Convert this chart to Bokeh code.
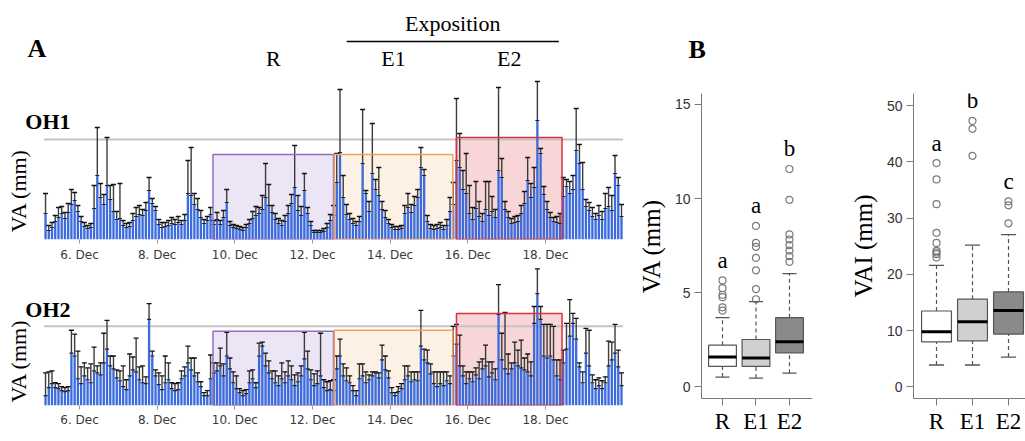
import numpy as np
import pandas as pd
from bokeh.plotting import figure
from bokeh.layouts import row, column
from bokeh.models import Range1d, FixedTicker, CustomJSTickFormatter
from bokeh.core.properties import value
from bokeh.embed import file_html
from bokeh.resources import INLINE

# ---------------- data ----------------
first_bin = "2015-12-05 02:00"      # 2-hour bins
bin_hours = 2

oh1_va = [
    2.6, 0.9, 1.2, 1.8, 2.2, 2.6, 2.1, 2.7, 3.5, 3.9, 2.8,
    1.8, 1.3, 1.1, 1.2, 3.1, 6.4, 4.2, 3.5, 5.4, 4.0, 2.8, 2.0,
    2.1, 1.4, 1.2, 1.3, 1.9, 2.3, 2.5, 2.4, 2.9, 4.9, 3.6, 2.9,
    1.5, 1.2, 1.3, 1.4, 1.6, 1.5, 1.7, 1.5, 1.9, 4.6, 4.4, 3.5,
    3.0, 2.2, 1.6, 1.9, 2.5, 1.5, 2.0, 1.5, 2.2, 3.7, 1.4, 1.2,
    1.1, 1.0, 0.9, 1.2, 1.6, 2.1, 2.4, 2.6, 3.0, 4.2, 3.4, 2.7,
    2.0, 1.6, 1.4, 1.8, 2.6, 3.6, 5.2, 2.9, 2.4, 4.9, 2.6, 1.4,
    0.7, 0.7, 0.7, 0.8, 1.2, 1.9, 2.4, 5.7, 8.7, 4.2, 2.5, 2.0,
    1.6, 1.4, 1.8, 7.6, 4.6, 2.8, 6.6, 5.0, 4.4, 3.0, 2.2, 1.6,
    1.2, 1.0, 1.0, 1.1, 2.6, 3.2, 2.7, 3.4, 4.2, 7.2, 6.4, 1.8,
    1.1, 1.0, 1.1, 1.2, 1.0, 1.4, 2.8, 3.5, 7.9, 7.2, 5.0, 4.6,
    2.6, 2.0, 3.1, 2.3, 1.8, 3.0, 2.4, 2.8, 2.2, 6.9, 6.2, 3.0,
    2.2, 1.6, 1.7, 1.8, 2.6, 3.6, 5.9, 4.2, 5.2, 11.9, 8.6, 4.5,
    3.0, 2.2, 1.8, 1.7, 1.6, 4.3, 5.3, 4.6, 5.0, 8.9, 7.6, 5.0,
    3.3, 2.9, 2.3, 2.0, 2.4, 2.0, 3.1, 3.3, 2.9, 6.6, 5.4, 2.3,
]
oh1_upper = [
    4.6, 1.4, 1.7, 2.4, 3.2, 3.3, 2.7, 3.6, 5.0, 4.7, 3.4,
    2.3, 1.7, 1.4, 1.6, 5.4, 11.2, 5.6, 4.5, 10.2, 5.4, 5.5, 2.8,
    5.6, 1.9, 1.6, 1.7, 2.6, 3.2, 3.4, 3.0, 3.7, 6.2, 4.1, 3.3,
    2.0, 1.7, 1.7, 1.9, 2.2, 2.0, 2.3, 1.9, 2.5, 7.9, 9.2, 4.6,
    4.1, 2.9, 2.0, 2.3, 3.2, 1.9, 2.7, 1.9, 2.9, 5.0, 1.8, 1.5,
    1.4, 1.3, 1.2, 1.5, 2.0, 2.8, 3.3, 3.2, 4.4, 7.6, 5.5, 3.4,
    2.6, 2.1, 1.9, 2.4, 3.4, 4.5, 9.4, 4.4, 3.3, 6.6, 3.2, 1.8,
    0.9, 0.9, 0.9, 1.1, 1.6, 2.5, 3.4, 8.6, 15.0, 6.4, 3.5, 2.6,
    2.1, 1.8, 2.3, 13.0, 4.9, 3.8, 11.6, 6.0, 7.2, 3.8, 2.9, 2.0,
    1.5, 1.3, 1.3, 1.4, 3.4, 4.6, 3.5, 4.3, 5.0, 9.2, 7.0, 2.4,
    1.5, 1.4, 1.5, 1.7, 1.4, 2.0, 4.2, 5.7, 14.1, 10.6, 6.9, 8.6,
    5.4, 3.2, 5.8, 3.8, 2.6, 5.8, 5.8, 4.3, 3.0, 15.2, 8.1, 3.8,
    2.8, 2.1, 2.3, 2.4, 3.4, 4.8, 8.2, 5.6, 7.2, 15.8, 9.1, 5.3,
    3.8, 2.7, 2.2, 2.3, 2.6, 6.2, 6.0, 5.8, 6.4, 13.1, 9.5, 7.7,
    4.0, 3.7, 3.2, 2.6, 3.4, 2.8, 4.6, 5.2, 4.4, 8.4, 6.2, 3.5,
]
oh2_va = [
    1.0, 1.8, 2.2, 1.8, 1.7, 1.5, 1.4, 1.5, 5.3, 5.0, 2.7,
    2.2, 3.0, 2.6, 2.3, 3.5, 3.3, 3.1, 4.3, 5.7, 4.0, 3.7, 2.8,
    2.5, 1.9, 1.6, 3.0, 3.6, 3.4, 2.6, 2.3, 2.2, 8.7, 5.0, 3.0,
    2.1, 1.6, 2.3, 2.6, 1.7, 1.5, 1.6, 2.7, 3.0, 4.3, 3.6, 3.0,
    2.4, 1.9, 1.0, 1.0, 2.7, 3.3, 3.5, 4.0, 3.0, 5.0, 3.7, 2.3,
    1.7, 1.3, 1.0, 1.2, 2.3, 2.7, 1.8, 5.0, 6.0, 4.0, 3.3, 2.7,
    2.3, 2.0, 2.7, 2.3, 3.0, 2.6, 2.0, 2.4, 3.0, 4.7, 3.7, 2.6,
    2.0, 2.2, 3.0, 1.8, 1.5, 1.6, 1.5, 3.7, 5.0, 3.0, 2.5, 2.3,
    1.5, 1.0, 2.7, 3.0, 2.3, 2.6, 3.0, 3.3, 2.8, 4.6, 3.6, 2.8,
    1.3, 1.0, 1.4, 1.7, 2.6, 3.0, 2.4, 2.6, 2.5, 6.0, 4.6, 4.3,
    3.2, 2.2, 1.9, 2.2, 2.0, 2.5, 2.2, 5.0, 6.2, 4.0, 3.0, 2.2,
    2.7, 2.4, 3.1, 2.7, 3.7, 4.0, 2.9, 3.3, 2.6, 9.2, 4.6, 3.7,
    3.2, 3.7, 4.3, 4.0, 3.8, 3.6, 3.4, 3.0, 8.3, 11.3, 8.7, 5.0,
    4.8, 5.0, 4.6, 3.0, 2.6, 4.3, 5.7, 7.0, 8.3, 6.7, 3.9, 2.3,
    5.3, 4.0, 2.3, 1.7, 2.0, 1.7, 2.3, 4.0, 4.6, 5.3, 3.9, 2.0,
]
oh2_upper = [
    3.3, 3.4, 3.5, 2.3, 2.2, 1.9, 1.8, 1.9, 7.6, 7.2, 5.5,
    3.9, 4.3, 3.8, 4.2, 5.9, 4.0, 4.3, 7.3, 8.6, 5.0, 5.0, 3.6,
    3.5, 4.0, 2.6, 5.2, 4.9, 6.8, 3.9, 4.0, 2.9, 10.3, 5.5, 3.6,
    3.3, 3.0, 5.0, 4.3, 2.3, 2.2, 2.3, 3.5, 3.9, 6.0, 4.8, 4.8,
    3.3, 2.4, 1.3, 1.5, 5.1, 4.3, 4.3, 5.8, 4.2, 7.4, 4.8, 3.4,
    3.0, 1.7, 1.5, 1.6, 3.5, 3.6, 2.3, 6.3, 6.4, 5.3, 4.5, 3.5,
    3.5, 3.0, 4.3, 3.4, 4.5, 4.0, 3.1, 3.3, 4.0, 7.4, 5.5, 3.6,
    3.2, 3.5, 7.3, 2.6, 2.4, 2.5, 2.6, 5.0, 6.7, 4.2, 3.8, 3.0,
    2.0, 1.5, 4.2, 4.2, 3.4, 3.1, 3.4, 3.4, 3.3, 6.1, 5.0, 3.5,
    1.8, 1.3, 1.9, 2.2, 4.0, 4.0, 3.4, 3.4, 3.4, 9.6, 5.7, 5.6,
    4.2, 3.4, 3.4, 3.4, 3.4, 3.4, 3.0, 8.0, 8.2, 7.1, 4.0, 3.4,
    3.4, 3.4, 3.8, 4.4, 4.7, 6.1, 4.4, 4.4, 3.7, 12.2, 7.3, 9.4,
    5.2, 4.3, 6.4, 5.6, 6.6, 4.8, 5.2, 4.4, 10.0, 13.8, 10.0, 8.2,
    8.2, 8.2, 8.0, 4.6, 4.6, 5.6, 8.3, 10.7, 9.3, 8.8, 4.3, 3.4,
    7.8, 7.6, 3.1, 2.6, 2.8, 2.5, 2.9, 6.5, 6.4, 8.2, 5.6, 3.3,
]
oh1_reference = 10.0
oh2_reference = 8.0

periods = ["R", "E1", "E2"]
period_start = ["2015-12-09 10:30", "2015-12-12 13:30", "2015-12-15 17:00"]
period_end = ["2015-12-12 13:00", "2015-12-15 14:45", "2015-12-18 10:15"]
oh1_period_top = [8.5, 8.5, 10.2]
oh2_period_top = [7.5, 7.6, 9.3]
exposition_span = ["2015-12-12 21:10", "2015-12-18 08:15"]

date_ticks = ["2015-12-06", "2015-12-08", "2015-12-10", "2015-12-12",
              "2015-12-14", "2015-12-16", "2015-12-18"]
date_tick_labels = ["6. Dec", "8. Dec", "10. Dec", "12. Dec", "14. Dec", "16. Dec", "18. Dec"]

groups = ["R", "E1", "E2"]
va_q1 = [1.07, 1.07, 1.79]
va_med = [1.57, 1.52, 2.38]
va_q3 = [2.20, 2.50, 3.66]
va_lo = [0.50, 0.45, 0.71]
va_hi = [3.66, 4.52, 6.00]
va_out = [[4.04, 4.21, 4.75, 4.88, 5.23, 5.64],
          [4.64, 5.18, 6.18, 6.84, 7.43, 7.64, 8.54],
          [6.63, 6.93, 7.23, 7.52, 7.82, 8.09, 9.93, 11.57]]
va_letters = ["a", "a", "b"]

vai_q1 = [8.0, 8.2, 9.4]
vai_med = [9.8, 11.6, 13.6]
vai_q3 = [13.5, 15.6, 16.9]
vai_lo = [3.9, 3.9, 5.3]
vai_hi = [21.6, 25.2, 27.1]
vai_out = [[23.0, 23.6, 23.9, 24.2, 25.6, 27.4, 32.5, 36.9, 39.8],
           [41.1, 45.9, 47.3],
           [29.1, 32.3, 33.0]]
vai_letters = ["a", "b", "c"]

# ---------------- helpers ----------------
SERIF = value("Liberation Serif")


def ms(s):
    return pd.Timestamp(s).value / 1e6


X_START = ms("2015-12-03 23:10")
X_END = ms("2015-12-20 05:48")
HOUR = 3600 * 1000.0

period_fill = ["#ebe5f5", "#fdf0e4", "#f8d5d6"]
period_line = ["#8f6fc4", "#eda35c", "#d8313f"]


def day_panel(va, upper, ref, ptop, height, bottom, ymax, standoff):
    p = figure(width=632, height=height, x_axis_type="datetime", y_axis_location=None,
               x_range=Range1d(X_START, X_END), y_range=Range1d(0, ymax),
               output_backend="svg", toolbar_location=None,
               min_border_left=0, min_border_right=0, min_border_top=0,
               min_border_bottom=bottom)
    p.xgrid.visible = False
    p.ygrid.visible = False
    p.outline_line_color = None
    p.background_fill_color = "white"
    p.border_fill_color = "white"

    starts = pd.date_range(first_bin, periods=len(va), freq=f"{bin_hours}h")
    x = starts.asi8 / 1e6 + bin_hours * HOUR / 2
    ps = [ms(s) for s in period_start]
    pe = [ms(s) for s in period_end]

    p.quad(left=ps, right=pe, bottom=0, top=ptop, fill_color=period_fill, line_color=None)
    p.segment(x0=[starts.asi8[0] / 1e6], y0=[ref], x1=[x[-1] + bin_hours * HOUR / 2], y1=[ref],
              line_color="#c4c4c4", line_width=2)
    p.vbar(x=x, top=va, bottom=0, width=bin_hours * HOUR * 0.72,
           fill_color="#3b6bdc", line_color=None)
    p.segment(x0=x, y0=va, x1=x, y1=upper, line_color="#3c3c3c", line_width=1.4)
    p.scatter(x=x, y=upper, marker="dash", size=5, line_color="#111111", line_width=1.3)
    p.scatter(x=x, y=va, marker="dash", size=4, line_color="#222222", line_width=1.2)
    p.quad(left=ps, right=pe, bottom=0, top=ptop, fill_color=None,
           line_color=period_line, line_width=1.5)

    ax = p.xaxis[0]
    ax.ticker = FixedTicker(ticks=[ms(d) for d in date_ticks])
    ax.formatter = CustomJSTickFormatter(args=dict(labels=date_tick_labels),
                                         code="return labels[index];")
    ax.axis_line_color = None
    ax.major_tick_line_color = "#9a9a9a"
    ax.major_tick_in = 0
    ax.major_tick_out = 4
    ax.minor_tick_line_color = None
    ax.major_label_standoff = standoff
    ax.major_label_text_font = "DejaVu Sans"
    ax.major_label_text_font_size = "12px"
    ax.major_label_text_color = "#3a3a3a"
    return p


# ---------------- panel A ----------------
p1 = day_panel(oh1_va, oh1_upper, oh1_reference, oh1_period_top, 266, 27, 23.9, 4)
p2 = day_panel(oh2_va, oh2_upper, oh2_reference, oh2_period_top, 175, 36, 14.04, 3)

mid = [(ms(a) + ms(b)) / 2 for a, b in zip(period_start, period_end)]
p1.text(x=mid, y=[18.1] * 3, text=periods, text_font=SERIF, text_font_size="22px",
        text_align="center", text_baseline="alphabetic", text_color="black")
ex0, ex1 = ms(exposition_span[0]), ms(exposition_span[1])
p1.segment(x0=[ex0], y0=[19.8], x1=[ex1], y1=[19.8], line_color="black", line_width=1.3)
p1.text(x=[(ex0 + ex1) / 2], y=[21.6], text=["Exposition"], text_font=SERIF,
        text_font_size="22px", text_align="center", text_baseline="alphabetic")
p1.text(x=[ms("2015-12-04 15:50")], y=[19.1], text=["A"], text_font=SERIF,
        text_font_size="26px", text_font_style="bold", text_align="left",
        text_baseline="alphabetic")

for p, name, yn, yv in ((p1, "OH1", 11.8, 4.9), (p2, "OH2", 9.7, 4.5)):
    p.text(x=[ms("2015-12-04 14:30")], y=[yn], text=[name], text_font=SERIF,
           text_font_size="22px", text_font_style="bold", text_align="left",
           text_baseline="alphabetic")
    p.text(x=[ms("2015-12-04 10:15")], y=[yv], text=["VA (mm)"], text_font=SERIF,
           text_font_size="22px", angle=np.pi / 2, text_align="center",
           text_baseline="middle")


# ---------------- panel B ----------------
def box_panel(width, bleft, btop, bbottom, xr, yr, yticks, ylabel,
              q1, med, q3, lo, hi, outs, letters, tick_out, lab_standoff, lab_size):
    p = figure(width=width, height=441, x_range=Range1d(*xr), y_range=Range1d(*yr),
               output_backend="svg", toolbar_location=None,
               min_border_left=bleft, min_border_right=0, min_border_top=btop,
               min_border_bottom=bbottom)
    p.xgrid.visible = False
    p.ygrid.visible = False
    p.outline_line_color = None
    xs = np.arange(1, len(q1) + 1, dtype=float)
    w, cap = 0.83, 0.21
    fills = ["#ffffff", "#d0d0d0", "#8a8a8a"]
    p.segment(x0=xs, y0=q3, x1=xs, y1=hi, line_color="#555555", line_width=1.2, line_dash="4 3")
    p.segment(x0=xs, y0=lo, x1=xs, y1=q1, line_color="#555555", line_width=1.2, line_dash="4 3")
    p.segment(x0=xs - cap, y0=hi, x1=xs + cap, y1=hi, line_color="#555555", line_width=1.3)
    p.segment(x0=xs - cap, y0=lo, x1=xs + cap, y1=lo, line_color="#555555", line_width=1.3)
    p.quad(left=xs - w / 2, right=xs + w / 2, bottom=q1, top=q3, fill_color=fills,
           line_color="#555555", line_width=1.2)
    p.segment(x0=xs - w / 2, y0=med, x1=xs + w / 2, y1=med, line_color="black", line_width=3)
    ox = [i + 1.0 for i, o in enumerate(outs) for _ in o]
    oy = [v for o in outs for v in o]
    p.scatter(x=ox, y=oy, marker="circle", size=7, fill_color=None,
              line_color="#7a7a7a", line_width=1.2)
    p.text(x=xs, y=[max(o) for o in outs], text=letters, y_offset=-20, text_font=SERIF,
           text_font_size="23px", text_align="center", text_baseline="alphabetic")

    ya = p.yaxis[0]
    ya.ticker = FixedTicker(ticks=yticks)
    ya.axis_label = ylabel
    ya.axis_label_text_font = "Liberation Serif"
    ya.axis_label_text_font_size = "25px"
    ya.axis_label_text_font_style = "normal"
    ya.axis_label_text_color = "black"
    ya.axis_label_standoff = 7
    ya.major_label_text_font = "Liberation Sans"
    ya.major_label_text_font_size = "14px"
    ya.major_label_text_color = "#333333"
    ya.major_tick_out = 7
    ya.major_label_standoff = 4

    xa = p.xaxis[0]
    xa.ticker = FixedTicker(ticks=[1, 2, 3])
    xa.major_label_overrides = {1: groups[0], 2: groups[1], 3: groups[2]}
    xa.major_label_text_font = "Liberation Serif"
    xa.major_label_text_font_size = lab_size
    xa.major_label_text_color = "black"
    xa.major_tick_out = tick_out
    xa.major_label_standoff = lab_standoff

    for a in (xa, ya):
        a.axis_line_color = "#7a7a7a"
        a.major_tick_line_color = "#7a7a7a"
        a.major_tick_in = 0
        a.minor_tick_line_color = None
    return p


b1 = box_panel(180, 69, 93, 43, (0.373, 3.687), (-0.638, 15.585), [0, 5, 10, 15], "VA (mm)",
               va_q1, va_med, va_q3, va_lo, va_hi, va_out, va_letters, 7, 3, "23px")
b1.title.text = "B"
b1.title.text_font = "Liberation Serif"
b1.title.text_font_size = "26px"
b1.title.text_font_style = "bold"
b1.title.text_color = "black"
b1.title.align = "left"
b1.title.offset = -13
b1.title.standoff = 60

b2 = box_panel(213, 101, 89, 36, (0.361, 3.472), (-2.06, 52.18), [0, 10, 20, 30, 40, 50],
               "VAI (mm)", vai_q1, vai_med, vai_q3, vai_lo, vai_hi, vai_out, vai_letters,
               7, 3, "23px")

layout = row(column(p1, p2), b1, b2)
open("out.html", "w").write(file_html(layout, INLINE))
